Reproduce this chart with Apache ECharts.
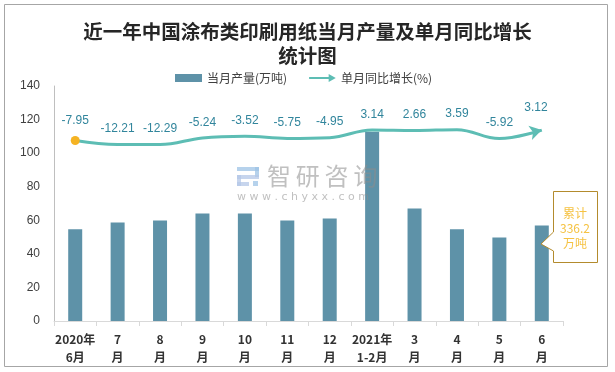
<!DOCTYPE html>
<html>
<head>
<meta charset="utf-8">
<script src="https://cdn.jsdelivr.net/npm/echarts@6/dist/echarts.min.js"></script>
<style>html,body{margin:0;padding:0;background:#fff;}#c{width:615px;height:372px;}</style>
</head>
<body>
<div id="c"></div>
<script>
var categories = ['2020年\n6月','7\n月','8\n月','9\n月','10\n月','11\n月','12\n月','2021年\n1-2月','3\n月','4\n月','5\n月','6\n月'];
var production = [54.6, 58.7, 59.9, 64.0, 64.0, 59.9, 61.1, 112.7, 67.0, 54.6, 49.8, 56.9];
var growth = [-7.95, -12.21, -12.29, -5.24, -3.52, -5.75, -4.95, 3.14, 2.66, 3.59, -5.92, 3.12];
var yTicks = [0, 20, 40, 60, 80, 100, 120, 140];
var seriesNames = ['当月产量(万吨)', '单月同比增长(%)'];
var calloutText = '累计\n336.2\n万吨';

var lineColor = '#5dbdb4';
var lineData = growth.map(function (v, i) {
  if (i === 0) return { value: v, symbol: 'circle', symbolSize: 9, itemStyle: { color: '#f5b323' } };
  if (i === growth.length - 1) return { value: v, symbol: 'arrow', symbolSize: [11, 12], symbolRotate: -76, itemStyle: { color: lineColor } };
  return { value: v, symbol: 'circle', symbolSize: 1, itemStyle: { color: 'rgba(0,0,0,0)' } };
});

var chart = echarts.init(document.getElementById('c'), null, { renderer: 'canvas' });
chart.setOption({
  animation: false,
  backgroundColor: '#fff',
  title: {
    text: '近一年中国涂布类印刷用纸当月产量及单月同比增长\n统计图',
    left: 'center',
    top: 15,
    textStyle: { fontFamily: 'Noto Sans CJK SC', fontSize: 19.5, fontWeight: 'bold', color: '#262626', lineHeight: 24 }
  },
  legend: {
    top: 67,
    left: 170,
    itemWidth: 27,
    itemHeight: 8,
    itemGap: 22,
    textStyle: { fontFamily: 'Noto Sans CJK SC', fontSize: 12, color: '#404040' },
    data: [
      { name: seriesNames[0], icon: 'rect' },
      { name: seriesNames[1], icon: 'path://M0,4 L22,4 L22,0.5 L30,5 L22,9.5 L22,6 L0,6 Z', itemStyle: { color: lineColor } }
    ]
  },
  grid: { left: 54, right: 52, top: 86, bottom: 51, containLabel: false },
  xAxis: {
    type: 'category',
    data: categories,
    boundaryGap: true,
    axisLine: { lineStyle: { color: '#d9d9d9', width: 1 } },
    axisTick: { show: true, alignWithLabel: false, length: 5, lineStyle: { color: '#d9d9d9' } },
    axisLabel: { interval: 0, margin: 9, fontFamily: "'Liberation Sans Narrow','Noto Sans CJK SC'", fontWeight: 'bold', fontSize: 12, color: '#333', lineHeight: 18 }
  },
  yAxis: [
    {
      type: 'value', min: yTicks[0], max: yTicks[yTicks.length - 1], interval: 20,
      axisLine: { show: true, lineStyle: { color: '#bfbfbf' } },
      axisTick: { show: false },
      splitLine: { show: false },
      axisLabel: { margin: 14, fontFamily: 'Liberation Sans', fontSize: 12, color: '#404040' }
    },
    {
      type: 'value', min: -200, max: 50, show: false, splitLine: { show: false }
    }
  ],
  series: [
    {
      name: seriesNames[0], type: 'bar', data: production, barWidth: 14,
      itemStyle: { color: '#5e92a8' }, z: 2
    },
    {
      name: seriesNames[1], type: 'line', yAxisIndex: 1, data: lineData,
      smooth: 0.4, showSymbol: true,
      lineStyle: { color: lineColor, width: 3 },
      itemStyle: { color: lineColor },
      label: { show: true, position: 'top', distance: 9, fontFamily: 'Liberation Sans', fontSize: 12, color: '#31859c' },
      z: 3
    }
  ],
  graphic: [
    { type: 'rect', shape: { x: 4.5, y: 4.5, width: 603, height: 362 }, style: { fill: 'none', stroke: '#a6a6a6', lineWidth: 1 }, silent: true, z: 0 },
    // watermark logo
    { type: 'group', left: 237, top: 167, z: 10, silent: true, children: [
      { type: 'rect', shape: { x: 0, y: 0, width: 22, height: 4 }, style: { fill: 'rgba(157,195,230,0.75)' } },
      { type: 'rect', shape: { x: 18, y: 0, width: 4, height: 10 }, style: { fill: 'rgba(157,195,230,0.75)' } },
      { type: 'rect', shape: { x: 0, y: 8, width: 22, height: 4 }, style: { fill: 'rgba(180,199,231,0.75)' } },
      { type: 'rect', shape: { x: 0, y: 8, width: 4, height: 11 }, style: { fill: 'rgba(180,199,231,0.75)' } },
      { type: 'rect', shape: { x: 0, y: 15, width: 12, height: 4 }, style: { fill: 'rgba(180,199,231,0.75)' } },
      { type: 'rect', shape: { x: 16, y: 14, width: 5, height: 5 }, style: { fill: 'rgba(157,195,230,0.75)' } }
    ] },
    { type: 'text', left: 267, top: 164, z: 10, silent: true, style: { text: '智\u2009研\u2009咨\u2009询', font: '24px "Noto Sans CJK SC"', fill: 'rgba(140,140,140,0.55)' } },
    { type: 'text', left: 237, top: 192, z: 10, silent: true, style: { text: 'w w w . c h y x x . c o m', font: '11px "DejaVu Sans"', fill: 'rgba(140,140,140,0.55)' } },
    // callout
    { type: 'polygon', z: 20, silent: true, shape: { points: [[553.5,191.5],[597.5,191.5],[597.5,262.5],[553.5,262.5],[553.5,251],[541,244],[553.5,232]] }, style: { fill: '#fff', stroke: '#b38b2d', lineWidth: 1 } },
    { type: 'text', x: 575, y: 228, z: 21, silent: true, style: { text: calloutText, align: 'center', verticalAlign: 'middle', font: '12px "Noto Sans CJK SC"', lineHeight: 15, fill: '#f5c242' } }
  ]
});
</script>
</body>
</html>
